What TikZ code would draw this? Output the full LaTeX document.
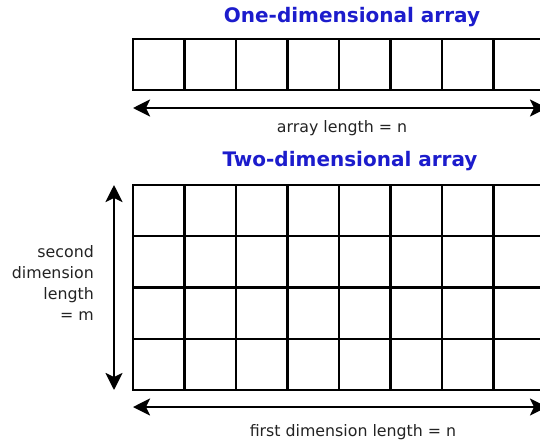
\documentclass[tikz,border=0pt]{standalone}
\usepackage{fontspec}
\setmainfont{DejaVu Sans}
\usepackage{xcolor}
\usetikzlibrary{arrows.meta, positioning}
\definecolor{TitleBlue}{RGB}{28, 28, 204}
\definecolor{LineBlack}{RGB}{0, 0, 0}
\definecolor{TextGray}{RGB}{35, 35, 35}
\tikzset{
    cell/.style={draw=LineBlack, line width=2.4pt},
    dimarrow/.style={draw=LineBlack, line width=2.6pt,
        {Stealth[length=17pt, width=17pt, inset=4pt]}-{Stealth[length=17pt, width=17pt, inset=4pt]}},
    title/.style={text=TitleBlue, font=\fontsize{20}{24}\selectfont\bfseries, inner sep=0pt},
    dimlabel/.style={text=TextGray, font=\fontsize{15.8}{21}\selectfont, inner sep=0pt}
}

\begin{document}
\begin{tikzpicture}[x=1pt, y=-1pt]
            \useasboundingbox (0,0) rectangle (540,440);
            \clip (0,0) rectangle (540,440);
            % one-dimensional array
            \node[title] (onetitle) at (352,17) {One-dimensional array};
            \draw[cell] (133,39) rectangle (545,90);
            \foreach \i in {1,...,7}
                \draw[cell] (133+51.5*\i,39) -- ++(0,51);
            \coordinate (oneleft) at (133,108);
            \coordinate (oneright) at (547,108);
            \draw[dimarrow] (oneleft) -- (oneright);
            \node[dimlabel] (onelabel) at (342,128) {array length = n};
            % two-dimensional array
            \node[title] (twotitle) at (350,161) {Two-dimensional array};
            \draw[cell] (133,185) rectangle (545,390);
            \foreach \i in {1,...,7}
                \draw[cell] (133+51.5*\i,185) -- ++(0,205);
            \foreach \j in {1,...,3}
                \draw[cell] (133,185+51.25*\j) -- ++(412,0);
            \coordinate (twotop) at (114,185);
            \coordinate (twobottom) at (114,390);
            \draw[dimarrow] (twotop) -- (twobottom);
            \node[dimlabel, align=right, anchor=east] (seclabel) at (94,283)
                {second\\dimension\\length\\= m};
            \coordinate (twoleft) at (133,407);
            \coordinate (tworight) at (547,407);
            \draw[dimarrow] (twoleft) -- (tworight);
            \node[dimlabel] (firstlabel) at (353,432) {first dimension length = n};
        \end{tikzpicture}
\end{document}
